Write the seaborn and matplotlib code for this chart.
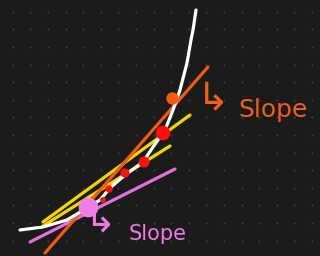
import numpy as np
import pandas as pd
import seaborn as sns
from matplotlib import pyplot as plt

# hand-drawn curve (pixel coords, y grows downwards)
curve_x = [20, 43, 67, 87, 100, 110, 125, 143, 153, 165, 173, 180, 187, 191, 193, 196]
curve_y = [230, 227, 220, 208, 200, 188, 175, 162, 147, 130, 110, 90, 63, 40, 30, 10]

# straight strokes (two end points each)
orange_x = [45, 208]
orange_y = [253, 67]
yellow1_x = [43, 190]
yellow1_y = [222, 115]
yellow2_x = [43, 170]
yellow2_y = [226, 146]
pink_x = [30, 175]
pink_y = [242, 169]

# dots on the curve
red_x = [103, 109, 125, 144, 163]
red_y = [200, 189, 173, 162, 133]
red_size = [30, 40, 55, 75, 120]

orange_dot = ([172], [98])
pink_dot = ([88], [207])

# "slope" call-outs: hook arrow + word
labels = ["Slope", "Slope"]
label_x = [238, 129]
label_y = [110, 234]
label_fs = [18, 15]
hook_x = [197, 84]
hook_y = [98, 222]
hook_fs = [28, 27]
label_colors = ["#f0601a", "#ec7ae4"]

bg = "#1b1b1b"
sns.set_style("dark", {"axes.facecolor": bg, "figure.facecolor": bg})

fig, ax = plt.subplots(figsize=(3.2, 2.56), dpi=100)
fig.subplots_adjust(0, 0, 1, 1)

# dotted background
gx, gy = np.meshgrid(np.arange(12.7, 320, 17.6), np.arange(11.7, 256, 17.6))
ax.scatter(gx.ravel(), gy.ravel(), s=2.5, color="#3b3b3b", linewidths=0)

lw = 2.3
sns.lineplot(x=pink_x, y=pink_y, color="#e66fe0", lw=lw, ax=ax)
sns.lineplot(x=yellow1_x, y=yellow1_y, color="#f2d600", lw=lw, ax=ax)
sns.lineplot(x=yellow2_x, y=yellow2_y, color="#f2d600", lw=lw, ax=ax)
sns.lineplot(x=orange_x, y=orange_y, color="#f05a12", lw=lw, ax=ax)
sns.lineplot(x=curve_x, y=curve_y, color="white", lw=lw, sort=False, ax=ax)

sns.scatterplot(x=red_x, y=red_y, size=red_size, sizes=(18, 110), color="#ff1010",
                linewidth=0, legend=False, ax=ax, zorder=5)
sns.scatterplot(x=orange_dot[0], y=orange_dot[1], s=80, color="#f05a12",
                linewidth=0, legend=False, ax=ax, zorder=5)
sns.scatterplot(x=pink_dot[0], y=pink_dot[1], s=200, color="#f07ee8",
                linewidth=0, legend=False, ax=ax, zorder=5)

for i in range(2):
    ax.text(hook_x[i], hook_y[i], "↳", color=label_colors[i], fontsize=hook_fs[i],
            va="center", ha="left")
    ax.text(label_x[i], label_y[i], labels[i], color=label_colors[i],
            fontsize=label_fs[i], va="center", ha="left")

ax.set_xlim(0, 320)
ax.set_ylim(256, 0)
ax.set_axis_off()
fig.savefig("out.png", dpi=100, facecolor=bg)
